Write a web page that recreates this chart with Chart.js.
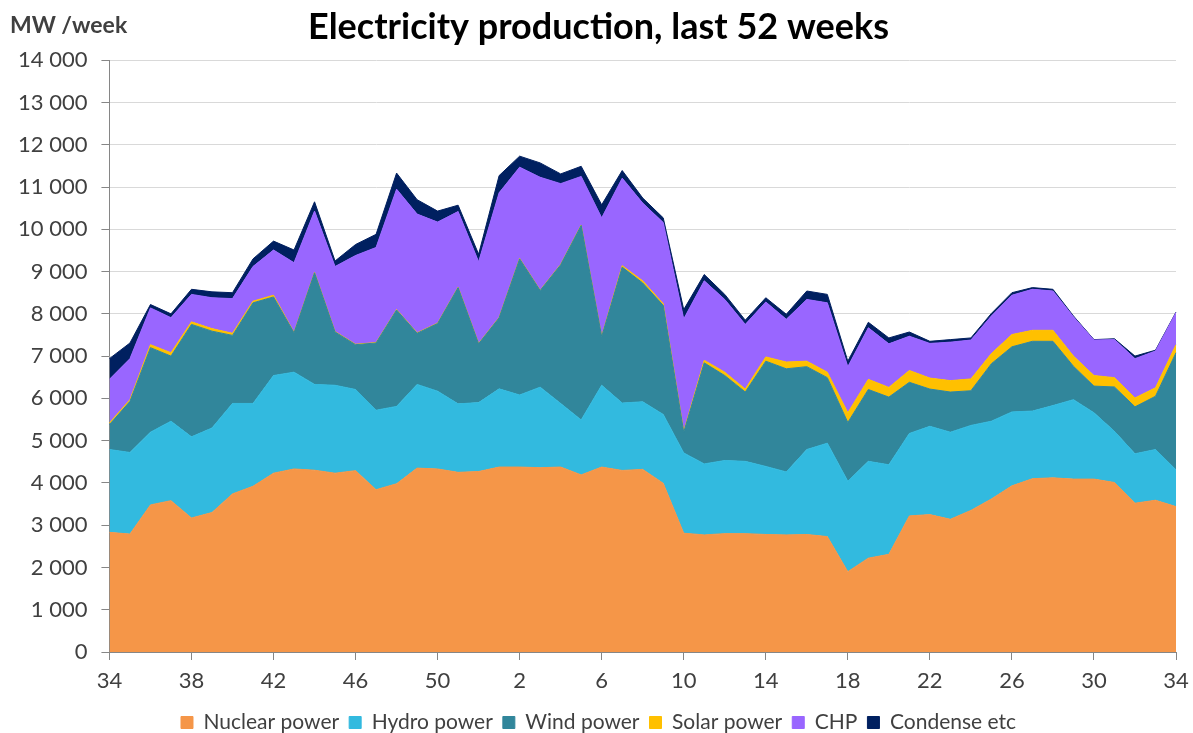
<!DOCTYPE html>
<html>
<head>
<meta charset="utf-8">
<script src="https://cdn.jsdelivr.net/npm/chart.js@4.4.1/dist/chart.umd.min.js"></script>
<style>
  body { margin: 0; background: #fff; overflow: hidden; }
  #wrap { position: relative; width: 1193px; height: 733px; }
  #unit { position: absolute; left: 10px; top: 10px; font: bold 23px Lato, sans-serif; color: #404040; }
</style>
</head>
<body>
<div id="wrap">
  <canvas id="mycanvas" width="1193" height="733"></canvas>
  <div id="unit">MW /week</div>
</div>
<script>
// weeks 34 .. 52, 1 .. 34
var weeks = [34,35,36,37,38,39,40,41,42,43,44,45,46,47,48,49,50,51,52,
             1,2,3,4,5,6,7,8,9,10,11,12,13,14,15,16,17,18,19,20,21,22,23,24,25,26,27,28,29,30,31,32,33,34];

var nuclear = [2830,2790,3480,3580,3170,3300,3740,3920,4230,4330,4300,4230,4290,3840,3980,4350,4330,4250,4270,
               4375,4375,4360,4375,4190,4375,4295,4320,3990,2810,2770,2800,2800,2780,2770,2780,2730,1900,2220,2310,
               3220,3250,3140,3350,3620,3930,4100,4120,4090,4090,4010,3520,3590,3440];
var hydro = [1960,1930,1720,1880,1920,2000,2140,1960,2310,2290,2030,2080,1920,1880,1830,1980,1840,1620,1630,
             1850,1705,1905,1505,1300,1935,1595,1600,1630,1900,1680,1730,1710,1610,1490,2010,2210,2140,2290,2120,
             1950,2090,2060,2010,1840,1750,1600,1710,1880,1570,1210,1170,1200,870];
var wind = [590,1210,2000,1540,2660,2290,1610,2380,1860,930,2640,1260,1060,1590,2280,1210,1600,2750,1390,
            1680,3220,2285,3280,4600,1150,3215,2810,2580,490,2390,2010,1640,2490,2440,1960,1550,1390,1700,1600,
            1210,880,950,820,1360,1540,1650,1520,790,630,1050,1110,1260,2770];
var solar = [40,40,70,80,60,60,50,40,40,10,10,10,10,10,10,10,10,10,10,
             10,10,10,10,10,10,35,50,40,20,60,80,70,100,160,130,130,230,240,230,
             280,260,270,280,240,290,260,260,240,250,220,210,200,190];
var chp = [1030,970,870,830,650,730,820,820,1070,1650,1450,1540,2100,2250,2850,2810,2390,1790,1930,
           2950,2160,2670,1910,1150,2800,2070,1840,1920,2660,1880,1720,1530,1300,1010,1460,1640,1090,1220,1030,
           810,820,910,920,890,930,970,930,930,840,900,930,870,760];
var condense = [490,370,80,90,120,140,140,180,210,300,220,130,260,310,380,340,260,150,180,
                405,260,340,230,240,310,180,120,110,220,150,120,100,100,120,200,200,130,130,140,
                100,50,60,50,60,60,40,40,20,10,20,60,20,10];

var names = ['Nuclear power','Hydro power','Wind power','Solar power','CHP','Condense etc'];
var colors = ['#F59648','#32BADF','#31869B','#FFC000','#9966FF','#002060'];
var series = [nuclear, hydro, wind, solar, chp, condense];

var datasets = series.map(function (d, i) {
    return {
        label: names[i],
        data: d,
        backgroundColor: colors[i],
        borderColor: colors[i],
        borderWidth: 1,
        pointRadius: 0,
        fill: i === 0 ? 'origin' : '-1',
        tension: 0
    };
});

var font = 'Lato, "Open Sans", sans-serif';

new Chart(document.getElementById('mycanvas'), {
    type: 'line',
    data: { labels: weeks, datasets: datasets },
    options: {
        responsive: false,
        animation: false,
        layout: { padding: { left: 4, right: 0, top: 0, bottom: -10 } },
        plugins: {
            title: {
                display: true,
                text: 'Electricity production, last 52 weeks',
                color: '#000',
                font: { family: font, size: 36, weight: 'bold' },
                padding: { top: 6, bottom: 11 }
            },
            legend: {
                position: 'bottom',
                labels: {
                    color: '#404040',
                    font: { family: font, size: 21 },
                    boxWidth: 12,
                    boxHeight: 12,
                    padding: 10
                }
            },
            tooltip: { enabled: false }
        },
        scales: {
            x: {
                offset: false,
                afterFit: function (scale) { scale.paddingRight = 17; },
                grid: {
                    drawOnChartArea: false,
                    tickLength: 8,
                    tickColor: function (c) { return c.index % 4 === 0 ? '#868686' : 'rgba(0,0,0,0)'; }
                },
                border: { color: '#868686' },
                ticks: {
                    autoSkip: false,
                    maxRotation: 0,
                    padding: 10,
                    color: '#404040',
                    font: { family: font, size: 22, lineHeight: 1 },
                    callback: function (v, i) { return i % 4 === 0 ? weeks[i] : ''; }
                }
            },
            y: {
                stacked: true,
                min: 0,
                max: 14000,
                grid: { color: '#D9D9D9', tickColor: '#868686', tickLength: 8 },
                border: { color: '#868686' },
                ticks: {
                    stepSize: 1000,
                    padding: 14,
                    color: '#404040',
                    font: { family: font, size: 22 },
                    callback: function (v) { return String(v).replace(/\B(?=(\d{3})+(?!\d))/g, ' '); }
                }
            }
        }
    }
});
</script>
</body>
</html>
